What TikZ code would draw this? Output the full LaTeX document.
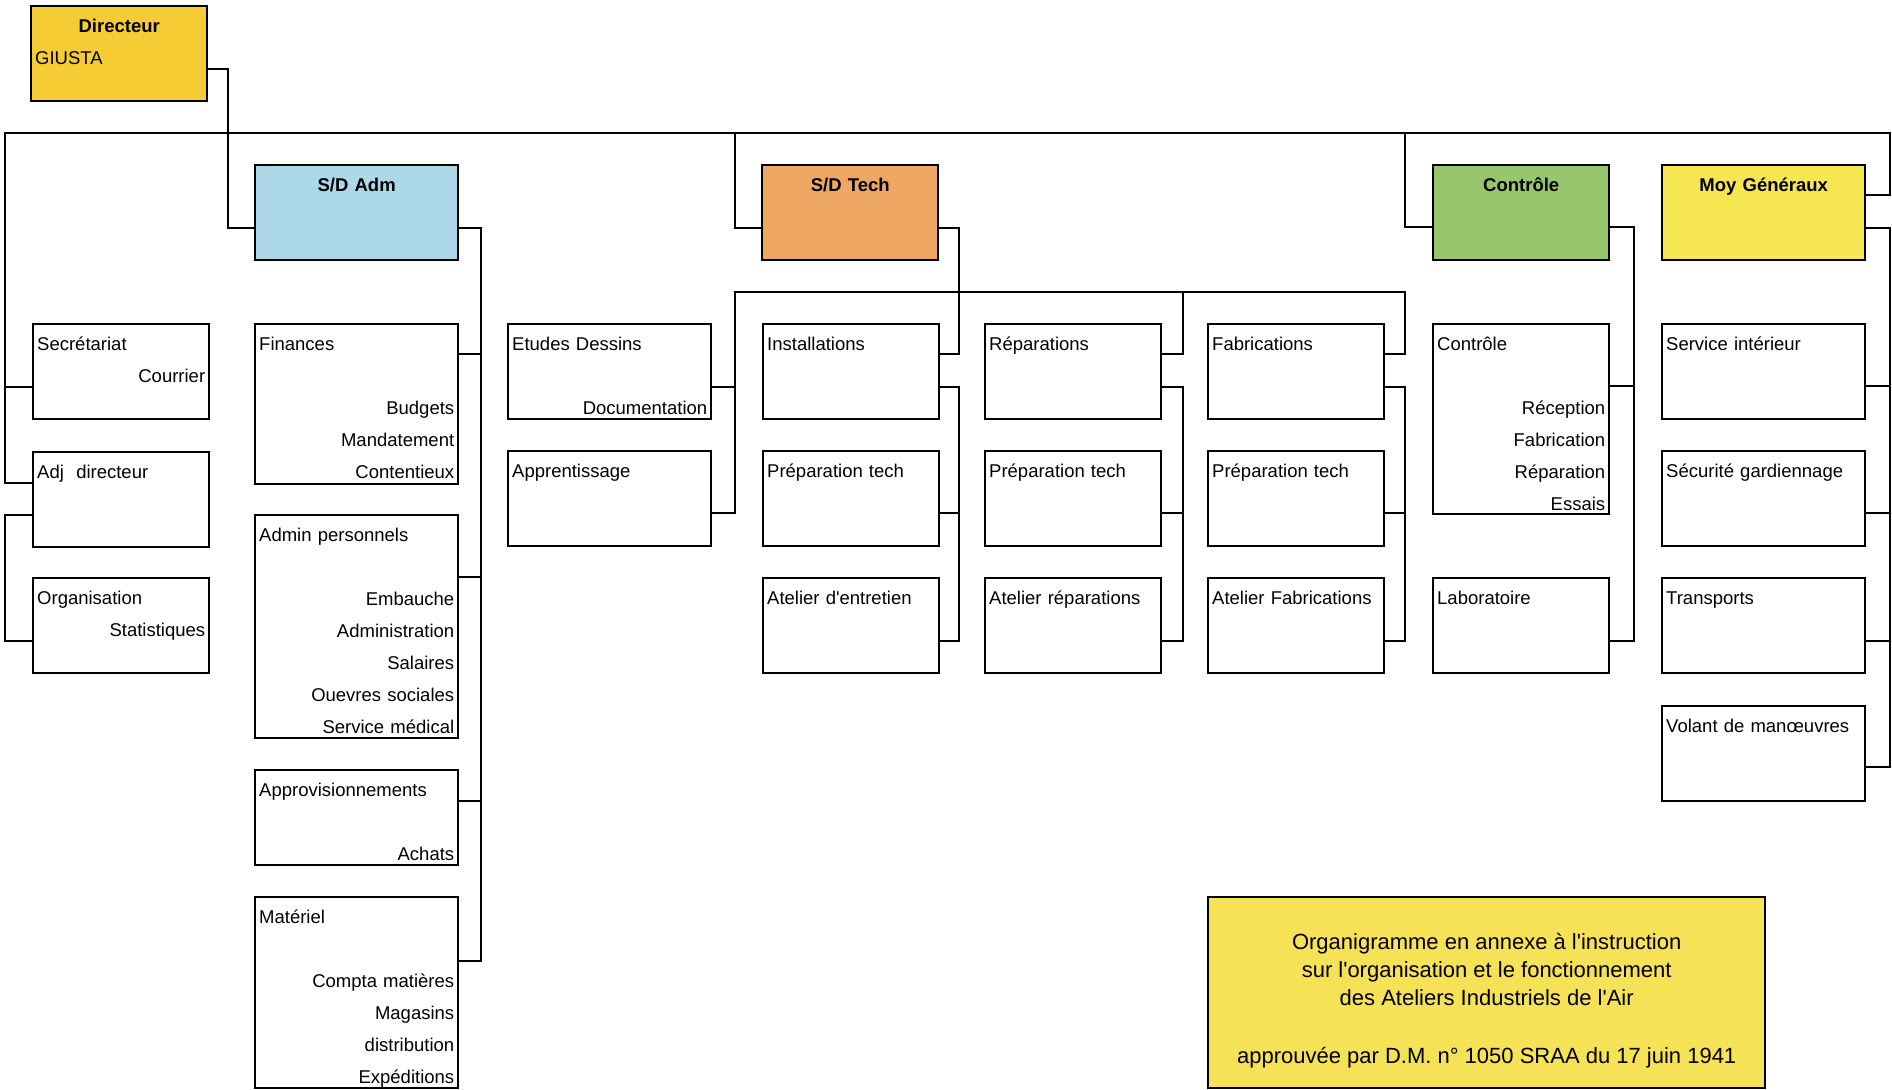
\documentclass[tikz,border=0pt]{standalone}
\usepackage{fontspec}
\setmainfont{Liberation Sans}

\definecolor{dirgold}{RGB}{246,204,52}
\definecolor{admblue}{RGB}{172,216,232}
\definecolor{techorange}{RGB}{238,168,100}
\definecolor{ctlgreen}{RGB}{152,198,110}
\definecolor{moyyellow}{RGB}{245,230,82}
\definecolor{noteyellow}{RGB}{246,226,86}

\newcommand{\unitfont}{\fontsize{9.25}{16}\selectfont}
\newcommand{\rline}[1]{\hspace*{\fill}#1}
\newcommand{\ap}{\textquotesingle}

\begin{document}
\begin{tikzpicture}[x=0.5pt, y=-0.5pt,
    unit/.style={draw, line width=1.2pt, fill=white, anchor=north west, align=left,
      text width=84pt, text height=11pt, text depth=32.5pt,
      inner xsep=2pt, inner ysep=2pt, font=\unitfont},
    wide/.style={text width=97.5pt},
    head/.style={unit, align=center, font=\unitfont\bfseries},
    link/.style={line width=1.2pt}]
    \useasboundingbox (0,0) rectangle (1892,1089);

    % Director and the four sub-directions
    \node[unit, fill=dirgold] (dir) at (30,5) {\makebox[84pt]{\textbf{Directeur}}\\GIUSTA};
    \node[head, wide, fill=admblue] (adm) at (254,164) {S/D Adm};
    \node[head, fill=techorange] (tech) at (761,164) {S/D Tech};
    \node[head, fill=ctlgreen] (ctl) at (1432,164) {Contrôle};
    \node[head, wide, fill=moyyellow] (moy) at (1661,164) {Moy Généraux};

    % Units attached to the director
    \node[unit] (sec) at (32,323) {Secrétariat\\\rline{Courrier}};
    \node[unit] (adj) at (32,451) {Adj\ \ directeur};
    \node[unit] (org) at (32,577) {Organisation\\\rline{Statistiques}};

    % S/D Adm
    \node[unit, wide, text depth=65pt] (fin) at (254,323) {Finances\\[16pt]\rline{Budgets}\\\rline{Mandatement}\\\rline{Contentieux}};
    \node[unit, wide, text depth=96.5pt] (per) at (254,514) {Admin personnels\\[16pt]\rline{Embauche}\\\rline{Administration}\\\rline{Salaires}\\\rline{Ouevres sociales}\\\rline{Service médical}};
    \node[unit, wide] (app) at (254,769) {Approvisionnements\\[16pt]\rline{Achats}};
    \node[unit, wide, text depth=80.5pt] (mat) at (254,896) {Matériel\\[16pt]\rline{Compta matières}\\\rline{Magasins}\\\rline{distribution}\\\rline{Expéditions}};

    % S/D Tech
    \node[unit, wide] (etu) at (507,323) {Etudes Dessins\\[16pt]\rline{Documentation}};
    \node[unit, wide] (apr) at (507,450) {Apprentissage};
    \node[unit] (ins) at (762,323) {Installations};
    \node[unit] (pr1) at (762,450) {Préparation tech};
    \node[unit] (at1) at (762,577) {Atelier d\ap entretien};
    \node[unit] (rep) at (984,323) {Réparations};
    \node[unit] (pr2) at (984,450) {Préparation tech};
    \node[unit] (at2) at (984,577) {Atelier réparations};
    \node[unit] (fab) at (1207,323) {Fabrications};
    \node[unit] (pr3) at (1207,450) {Préparation tech};
    \node[unit] (at3) at (1207,577) {Atelier Fabrications};

    % Controle
    \node[unit, text depth=80pt] (ctc) at (1432,323) {Contrôle\\[16pt]\rline{Réception}\\\rline{Fabrication}\\\rline{Réparation}\\\rline{Essais}};
    \node[unit] (lab) at (1432,577) {Laboratoire};

    % Moyens generaux
    \node[unit, wide] (ser) at (1661,323) {Service intérieur};
    \node[unit, wide] (secu) at (1661,450) {Sécurité gardiennage};
    \node[unit, wide] (tra) at (1661,577) {Transports};
    \node[unit, wide] (vol) at (1661,705) {Volant de manœuvres};

    % Caption
    \node[draw, line width=1.2pt, fill=noteyellow, anchor=north west, minimum width=278.5pt,
      minimum height=95.5pt, inner sep=0pt, align=center, font=\fontsize{11}{14}\selectfont]
      (note) at (1207,896) {\rule{0pt}{16pt}Organigramme en annexe à l\ap instruction\\sur l\ap organisation et le fonctionnement\\des Ateliers Industriels de l\ap Air\\[15pt]approuvée par D.M. n° 1050 SRAA du 17 juin 1941};

    % Main bus
    \draw[link] (dir.east |- 0,69) -- (228,69) |- (adm.west |- 0,228);
    \draw[link] (adj.west |- 0,483) -| (5,133) -| (1890,195) -- (moy.east |- 0,195);
    \draw[link] (sec.west |- 0,387) -- (5,387);
    \draw[link] (735,133) |- (tech.west |- 0,228);
    \draw[link] (1405,133) |- (ctl.west |- 0,227);
    \draw[link] (adj.west |- 0,515) -| (5,641) -- (org.west |- 0,641);

    % S/D Adm branch
    \draw[link] (adm.east |- 0,228) -| (481,961) -- (mat.east |- 0,961);
    \foreach \n/\y in {fin/354, per/577, app/801}
        \draw[link] (\n.east |- 0,\y) -- (481,\y);

    % S/D Tech branch
    \draw[link] (tech.east |- 0,228) -| (959,354) -- (ins.east |- 0,354);
    \draw[link] (apr.east |- 0,513) -| (735,292) -| (1405,354) -- (fab.east |- 0,354);
    \draw[link] (etu.east |- 0,387) -- (735,387);
    \draw[link] (rep.east |- 0,354) -| (1183,292);
    \foreach \hd/\md/\lw/\tx in {ins/pr1/at1/959, rep/pr2/at2/1183, fab/pr3/at3/1405} {
        \draw[link] (\hd.east |- 0,387) -| (\tx,641) -- (\lw.east |- 0,641);
        \draw[link] (\md.east |- 0,513) -- (\tx,513);
    }

    % Controle branch
    \draw[link] (ctl.east |- 0,227) -| (1634,641) -- (lab.east |- 0,641);
    \draw[link] (ctc.east |- 0,386) -- (1634,386);

    % Moy Generaux branch
    \draw[link] (moy.east |- 0,228) -| (1890,767) -- (vol.east |- 0,767);
    \foreach \n/\y in {ser/386, secu/513, tra/641}
        \draw[link] (\n.east |- 0,\y) -- (1890,\y);
\end{tikzpicture}
\end{document}
